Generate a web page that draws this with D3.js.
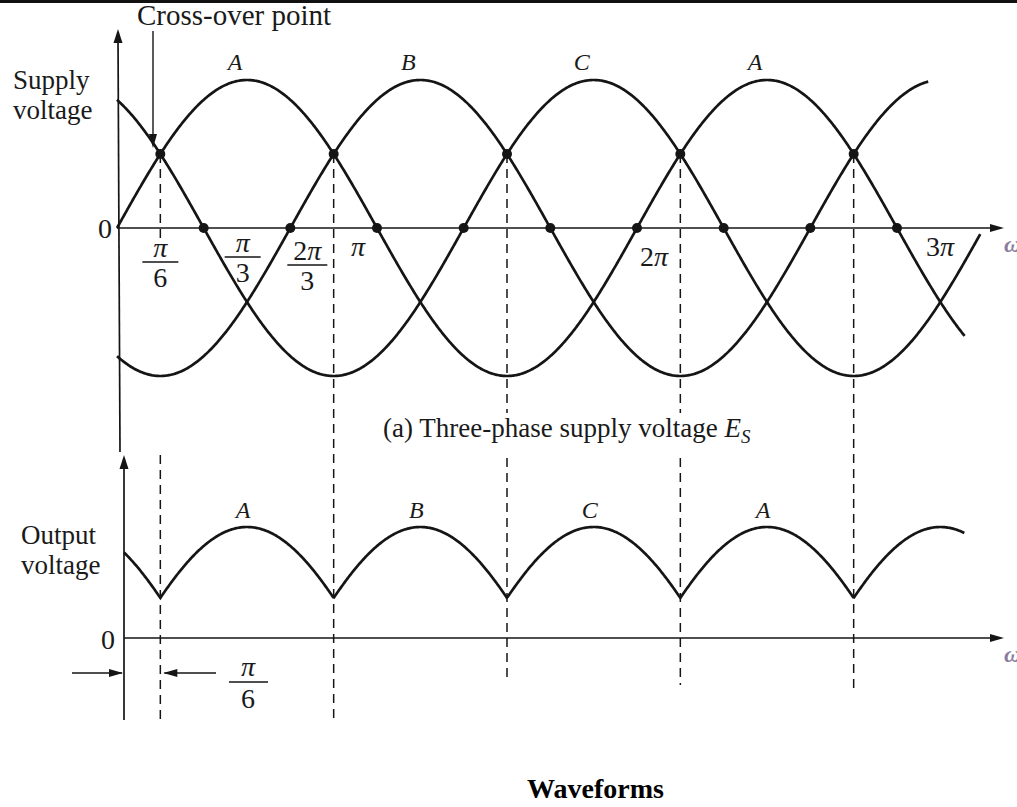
<!DOCTYPE html>
<html>
<head>
<meta charset="utf-8">
<script src="https://cdn.jsdelivr.net/npm/d3@7"></script>
<style>
  body { margin: 0; background: #fff; }
  text { font-family: "Liberation Serif", "Times New Roman", serif; fill: #1a1a1a; }
</style>
</head>
<body>
<script>
// all angles are in units of pi
const phaseNames = ["A", "B", "C"];
const phaseShift = [0, 2 / 3, 4 / 3];
const phaseEnd = [3.26, 3.12, 3.32];     // where each drawn supply curve stops
const outputEnd = 3.26;
const crossovers = [1 / 6, 5 / 6, 3 / 2, 13 / 6, 17 / 6];
const zeroDots = [1 / 3, 2 / 3, 1, 4 / 3, 5 / 3, 2, 7 / 3, 8 / 3, 3];
const peakLabels = ["A", "B", "C", "A"];
const peakAt = [1 / 2, 7 / 6, 11 / 6, 5 / 2];
const ticks = [
  { v: 1 / 6, num: "π", den: "6" },
  { v: 1 / 3, num: "π", den: "3" },
  { v: 2 / 3, num: "2π", den: "3" },
  { v: 1, num: "π", den: null },
  { v: 2, num: "2π", den: null },
  { v: 3, num: "3π", den: null }
];

// layout
const W = 1017, H = 807;
const tickDx = [0, 39, 17, -19, 17, 43];
const tickDy = [34, 29, 37, 30, 40, 30];
const dashRuns = [
  [[null, 240], [455, 720]],
  [[null, 720]],
  [[null, 413], [458, 678]],
  [[null, 413], [458, 685]],
  [[null, 690]]
];

const x = d3.scaleLinear().domain([0, 3]).range([117, 897]);
const yTop = d3.scaleLinear().domain([-1, 1]).range([376, 80]);
const yBot = d3.scaleLinear().domain([0, 0.5, 1]).range([638, 598, 527]);

const phase = (k, t) => Math.sin(Math.PI * (t - phaseShift[k]));
const output = t => d3.max([0, 1, 2], k => phase(k, t));

const svg = d3.select("body").append("svg")
  .attr("width", W).attr("height", H);

svg.append("rect").attr("width", W).attr("height", H).attr("fill", "#fff");
// scan border at the top
svg.append("rect").attr("x", 0).attr("y", 0).attr("width", W).attr("height", 3).attr("fill", "#111");

const ink = "#151515";

function arrowUp(cx, tip) {
  svg.append("path")
    .attr("d", `M${cx},${tip} L${cx - 4.5},${tip + 14} L${cx + 4.5},${tip + 14} Z`)
    .attr("fill", ink);
}
function arrowRight(tip, cy) {
  svg.append("path")
    .attr("d", `M${tip},${cy} L${tip - 14},${cy - 4} L${tip - 14},${cy + 4} Z`)
    .attr("fill", ink);
}

// ---- axes ----
const y0Top = yTop(0), y0Bot = yBot(0);
svg.append("line").attr("x1", x(0) + 1).attr("x2", x(0) + 3).attr("y1", 36).attr("y2", 452)
  .attr("stroke", ink).attr("stroke-width", 1.7);
arrowUp(x(0) + 1, 29);
svg.append("line").attr("x1", x(0)).attr("x2", 995).attr("y1", y0Top).attr("y2", y0Top)
  .attr("stroke", ink).attr("stroke-width", 1.7);
arrowRight(1004, y0Top);

svg.append("line").attr("x1", x(0) + 7).attr("x2", x(0) + 7).attr("y1", 462).attr("y2", 720)
  .attr("stroke", ink).attr("stroke-width", 1.7);
arrowUp(x(0) + 7, 455);
svg.append("line").attr("x1", x(0) + 7).attr("x2", 995).attr("y1", y0Bot).attr("y2", y0Bot)
  .attr("stroke", ink).attr("stroke-width", 1.7);
arrowRight(1004, y0Bot);

// cut-off omega labels at the right edge
[y0Top, y0Bot].forEach(yy => {
  svg.append("text").attr("x", 1004).attr("y", yy + 24)
    .attr("font-size", 24).attr("font-style", "italic").attr("font-weight", "bold")
    .style("fill", "#8a7c9e").text("ω");
});

// ---- dashed verticals ----
crossovers.forEach((c, i) => {
  dashRuns[i].forEach(r => {
    svg.append("line")
      .attr("x1", x(c)).attr("x2", x(c))
      .attr("y1", r[0] === null ? yTop(0.5) : r[0]).attr("y2", r[1])
      .attr("stroke", ink).attr("stroke-width", 1.5)
      .attr("stroke-dasharray", "9,6");
  });
});

// ---- supply curves ----
const step = 0.004;
const lineTop = d3.line().x(d => x(d[0])).y(d => yTop(d[1]));
phaseNames.forEach((p, k) => {
  const pts = d3.range(0, phaseEnd[k] + step / 2, step).map(t => [t, phase(k, t)]);
  svg.append("path").attr("d", lineTop(pts))
    .attr("fill", "none").attr("stroke", ink).attr("stroke-width", 2.7);
});

// dots
crossovers.forEach(c => {
  svg.append("circle").attr("cx", x(c)).attr("cy", yTop(0.5)).attr("r", 5).attr("fill", ink);
});
zeroDots.forEach(z => {
  svg.append("circle").attr("cx", x(z)).attr("cy", y0Top).attr("r", 5).attr("fill", ink);
});

// peak labels
peakLabels.forEach((l, i) => {
  svg.append("text").attr("x", x(peakAt[i]) - 12).attr("y", 70)
    .attr("text-anchor", "middle").attr("font-size", 24).attr("font-style", "italic").text(l);
  svg.append("text").attr("x", x(peakAt[i]) - 4).attr("y", 518)
    .attr("text-anchor", "middle").attr("font-size", 24).attr("font-style", "italic").text(l);
});

// ---- tick labels ----
function piText(sel, s) {
  // digits upright, pi italic
  const m = s.match(/^(\d*)(π)$/);
  if (m && m[1]) sel.append("tspan").text(m[1]);
  sel.append("tspan").attr("font-style", "italic").text(m ? "π" : s);
}
ticks.forEach((t, i) => {
  const cx = x(t.v) + tickDx[i];
  const by = y0Top + tickDy[i];
  if (t.den) {
    const wBar = t.num.length > 1 ? 40 : 36;
    svg.append("line").attr("x1", cx - wBar / 2).attr("x2", cx + wBar / 2)
      .attr("y1", by).attr("y2", by).attr("stroke", ink).attr("stroke-width", 1.4);
    piText(svg.append("text").attr("x", cx).attr("y", by - 5).attr("text-anchor", "middle")
      .attr("font-size", 28), t.num);
    svg.append("text").attr("x", cx).attr("y", by + 25).attr("text-anchor", "middle")
      .attr("font-size", 28).text(t.den);
  } else {
    piText(svg.append("text").attr("x", cx).attr("y", by - 2).attr("text-anchor", "middle")
      .attr("font-size", 28), t.num);
  }
});

// ---- output voltage ----
const lineBot = d3.line().x(d => x(d[0])).y(d => yBot(d[1]));
const t0 = x.invert(x(0) + 7);
const outPts = d3.range(t0, outputEnd + step / 2, step).map(t => [t, output(t)]);
svg.append("path").attr("d", lineBot(outPts))
  .attr("fill", "none").attr("stroke", ink).attr("stroke-width", 2.7);

// pi/6 offset marker
const mY = 673;
svg.append("line").attr("x1", 72).attr("x2", x(0) + 5).attr("y1", mY).attr("y2", mY)
  .attr("stroke", ink).attr("stroke-width", 1.3);
arrowRight(x(0) + 6, mY);
svg.append("line").attr("x1", 216).attr("x2", x(1 / 6) + 4).attr("y1", mY).attr("y2", mY)
  .attr("stroke", ink).attr("stroke-width", 1.3);
svg.append("path")
  .attr("d", `M${x(1 / 6) + 3},${mY} L${x(1 / 6) + 17},${mY - 4} L${x(1 / 6) + 17},${mY + 4} Z`)
  .attr("fill", ink);
svg.append("line").attr("x1", 229).attr("x2", 268).attr("y1", 682).attr("y2", 682)
  .attr("stroke", ink).attr("stroke-width", 1.4);
piText(svg.append("text").attr("x", 248).attr("y", 676).attr("text-anchor", "middle").attr("font-size", 28), "π");
svg.append("text").attr("x", 248).attr("y", 708).attr("text-anchor", "middle").attr("font-size", 28).text("6");

// ---- texts ----
svg.append("text").attr("x", 137).attr("y", 25).attr("font-size", 29).text("Cross-over point");
svg.append("line").attr("x1", 153).attr("x2", 153).attr("y1", 31).attr("y2", 138)
  .attr("stroke", ink).attr("stroke-width", 1.4);
svg.append("path").attr("d", "M153,148 L149,134 L157,134 Z").attr("fill", ink);

svg.append("text").attr("x", 13).attr("y", 89).attr("font-size", 27).text("Supply");
svg.append("text").attr("x", 13).attr("y", 119).attr("font-size", 27).text("voltage");
svg.append("text").attr("x", 105).attr("y", 238).attr("text-anchor", "middle").attr("font-size", 28).text("0");

svg.append("text").attr("x", 21).attr("y", 544).attr("font-size", 27).text("Output");
svg.append("text").attr("x", 21).attr("y", 574).attr("font-size", 27).text("voltage");
svg.append("text").attr("x", 108).attr("y", 649).attr("text-anchor", "middle").attr("font-size", 28).text("0");

const cap = svg.append("text").attr("x", 383).attr("y", 437).attr("font-size", 27);
cap.append("tspan").text("(a)  Three-phase supply voltage  ");
cap.append("tspan").attr("font-style", "italic").text("E");
cap.append("tspan").attr("font-style", "italic").attr("font-size", 19).attr("dy", 6).text("S");

svg.append("text").attr("x", 527).attr("y", 798)
  .attr("font-size", 28).attr("font-weight", "bold").style("fill", "#000").text("Waveforms");
</script>
</body>
</html>
